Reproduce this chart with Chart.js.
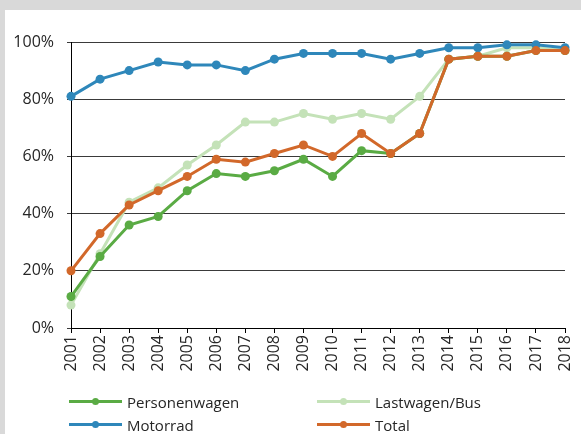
<!DOCTYPE html>
<html>
<head>
<meta charset="utf-8">
<script src="https://cdn.jsdelivr.net/npm/chart.js@4"></script>
<style>
  html, body { margin: 0; padding: 0; }
  body { width: 581px; height: 434px; background: #d9d9d9; position: relative; overflow: hidden; font-family: 'Open Sans', sans-serif; }
  #box { position: absolute; left: 5px; top: 10px; width: 576px; height: 424px; background: #fff; }
  #chart { position: absolute; left: 0; top: 0; }
  .lg { position: absolute; height: 20px; color: #262626; font-size: 15px; line-height: 20px; white-space: nowrap; }
  .lg .ln { position: absolute; left: 0; top: 8px; width: 53px; height: 3px; }
  .lg .pt { position: absolute; left: 23px; top: 6px; width: 7px; height: 7px; border-radius: 50%; }
  .lg .tx { position: absolute; left: 58px; top: 0; }
</style>
</head>
<body>
<div id="box"></div>
<canvas id="chart" width="581" height="434"></canvas>
<div id="legend"></div>
<script>
// Jahre und Anteile in Prozent
var years = ['2001', '2002', '2003', '2004', '2005', '2006', '2007', '2008', '2009',
             '2010', '2011', '2012', '2013', '2014', '2015', '2016', '2017', '2018'];
var personenwagen = [11, 25, 36, 39, 48, 54, 53, 55, 59, 53, 62, 61, 68, 94, 95, 95, 97, 97];
var lastwagenBus  = [8, 26, 44, 49, 57, 64, 72, 72, 75, 73, 75, 73, 81, 94, 95, 98, 98, 97];
var motorrad      = [81, 87, 90, 93, 92, 92, 90, 94, 96, 96, 96, 94, 96, 98, 98, 99, 99, 98];
var total         = [20, 33, 43, 48, 53, 59, 58, 61, 64, 60, 68, 61, 68, 94, 95, 95, 97, 97];
var yTicks = [0, 20, 40, 60, 80, 100];

var series = [
    { label: 'Personenwagen', data: personenwagen, color: '#5aab44', order: 2 },
    { label: 'Lastwagen/Bus', data: lastwagenBus, color: '#c4e2b8', order: 3 },
    { label: 'Motorrad', data: motorrad, color: '#2e87ba', order: 1 },
    { label: 'Total', data: total, color: '#d2682a', order: 0 }
];

Chart.defaults.font.family = "'Open Sans', sans-serif";
Chart.defaults.font.size = 16;
Chart.defaults.color = '#262626';

new Chart(document.getElementById('chart').getContext('2d'), {
    type: 'line',
    data: {
        labels: years,
        datasets: series.map(function (s) {
            return {
                label: s.label,
                data: s.data,
                borderColor: s.color,
                backgroundColor: s.color,
                pointBackgroundColor: s.color,
                pointBorderColor: s.color,
                borderWidth: 3,
                pointRadius: 4.5,
                pointBorderWidth: 0,
                tension: 0,
                clip: false,
                order: s.order
            };
        })
    },
    options: {
        responsive: false,
        animation: false,
        layout: { padding: { left: 0, right: 16, top: 42, bottom: 0 } },
        plugins: { legend: { display: false }, tooltip: { enabled: false } },
        scales: {
            x: {
                offset: false,
                grid: { drawOnChartArea: false, drawTicks: true, tickLength: 5, color: '#000', lineWidth: 1 },
                border: { color: '#000', width: 1 },
                ticks: { minRotation: 90, maxRotation: 90, autoSkip: false, padding: 2 },
                afterFit: function (scale) {
                    scale.height = 106;
                    scale.paddingRight = 0;
                    scale.paddingLeft = 0;
                }
            },
            y: {
                min: 0,
                max: 100,
                afterBuildTicks: function (scale) {
                    scale.ticks = yTicks.map(function (v) { return { value: v }; });
                },
                grid: { color: '#3a3a3a', lineWidth: 1, tickLength: 4 },
                border: { color: '#000', width: 1 },
                ticks: {
                    padding: 13,
                    callback: function (v) { return v + '%'; }
                },
                afterFit: function (scale) {
                    scale.width = 71;
                    scale.paddingTop = 0;
                    scale.paddingBottom = 0;
                }
            }
        }
    }
});

// Legende in zwei Spalten
var legendPos = [[69, 392], [317, 392], [69, 415], [317, 415]];
var legend = document.getElementById('legend');
series.forEach(function (s, i) {
    var item = document.createElement('div');
    item.className = 'lg';
    item.style.left = legendPos[i][0] + 'px';
    item.style.top = legendPos[i][1] + 'px';
    item.innerHTML = '<div class="ln" style="background:' + s.color + '"></div>' +
        '<div class="pt" style="background:' + s.color + '"></div>' +
        '<span class="tx">' + s.label + '</span>';
    legend.appendChild(item);
});
</script>
</body>
</html>
